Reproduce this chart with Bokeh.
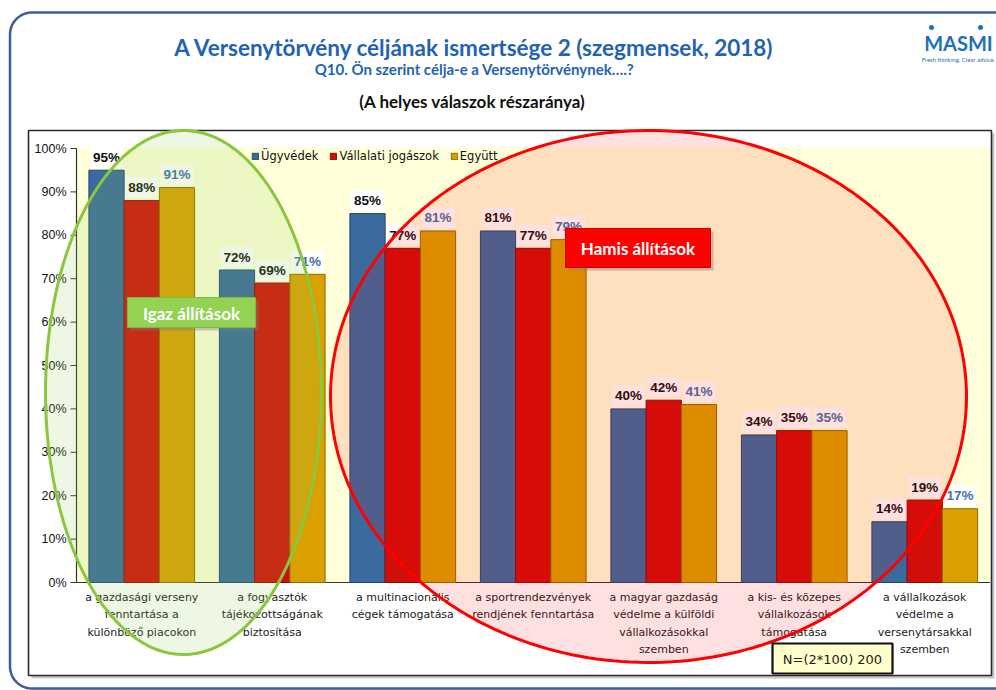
import numpy as np
from bokeh.plotting import figure
from bokeh.models import Range1d, ColumnDataSource, Legend, LegendItem
from bokeh.core.properties import value
from bokeh.embed import file_html
from bokeh.resources import INLINE

# ---------------- data ----------------
categories = [
    "a gazdasági verseny\nfenntartása a\nkülönböző piacokon",
    "a fogyasztók\ntájékozottságának\nbiztosítása",
    "a multinacionális\ncégek támogatása",
    "a sportrendezvények\nrendjének fenntartása",
    "a magyar gazdaság\nvédelme a külföldi\nvállalkozásokkal\nszemben",
    "a kis- és közepes\nvállalkozások\ntámogatása",
    "a vállalkozások\nvédelme a\nversenytársakkal\nszemben",
]
series_names = ["Ügyvédek", "Vállalati jogászok", "Együtt"]
ugyvedek = [95, 72, 85, 81, 40, 34, 14]
vallalati = [88, 69, 77, 77, 42, 35, 19]
egyutt = [91, 71, 81, 79, 41, 35, 17]
y_ticks = [0, 10, 20, 30, 40, 50, 60, 70, 80, 90, 100]
y_tick_labels = ["0%", "10%", "20%", "30%", "40%", "50%", "60%", "70%", "80%", "90%", "100%"]

title_text = "A Versenytörvény céljának ismertsége 2 (szegmensek, 2018)"
subtitle_text = "Q10. Ön szerint célja-e a Versenytörvénynek\u2026.?"
note_text = "(A helyes válaszok részaránya)"
true_label = "Igaz állítások"
false_label = "Hamis állítások"
n_text = "N=(2*100) 200"

# ---------------- layout ----------------
W, H = 996, 690
OX, OY = 0, 0                 # "px" coords equal screenshot coords
PLOT_L = 76                   # x pixel of the y axis
GROUP_W = 130.5               # pixels per category
ZERO_Y = 582                  # pixel of 0 %
PX_PER_PCT = 4.34

x_range = Range1d((OX - PLOT_L) / GROUP_W, (OX + W - PLOT_L) / GROUP_W)
y_range = Range1d((ZERO_Y - (OY + H)) / PX_PER_PCT, (ZERO_Y - OY) / PX_PER_PCT)

p = figure(width=W, height=H, x_range=x_range, y_range=y_range,
           output_backend="svg", toolbar_location=None,
           x_axis_type=None, y_axis_type=None, min_border=0)
p.extra_x_ranges = {"px": Range1d(OX, OX + W)}
p.extra_y_ranges = {"px": Range1d(OY + H, OY)}
p.outline_line_color = None
p.background_fill_color = "white"
p.border_fill_color = "white"
p.xgrid.visible = False
p.ygrid.visible = False

PX = dict(x_range_name="px", y_range_name="px")


def rounded_rect(l, t, r, b, rad, n=16):
    xs, ys = [], []
    corners = [(r - rad, t + rad, -np.pi / 2, 0), (r - rad, b - rad, 0, np.pi / 2),
               (l + rad, b - rad, np.pi / 2, np.pi), (l + rad, t + rad, np.pi, 1.5 * np.pi)]
    for cx, cy, a0, a1 in corners:
        th = np.linspace(a0, a1, n)
        xs += list(cx + rad * np.cos(th))
        ys += list(cy + rad * np.sin(th))
    xs.append(xs[0]); ys.append(ys[0])
    return xs, ys


def ellipse_pts(cx, cy, a, b, n=240):
    th = np.linspace(0, 2 * np.pi, n)
    return list(cx + a * np.cos(th)), list(cy + b * np.sin(th))


FONT = value("Liberation Sans")
CAT_FONT = value("DejaVu Sans")
TITLE_FONT = value("Lato")

# outer rounded blue frame
fx, fy = rounded_rect(9.5, 12, 1020, 688, 22)
p.line(fx, fy, line_color="#3B5E9A", line_width=2.5, **PX)

# chart box with shadow
p.quad(left=[31], right=[994], top=[133], bottom=[678], fill_color="#9A9A9A",
       fill_alpha=0.55, line_color=None, **PX)
p.quad(left=[28], right=[991], top=[130], bottom=[675], fill_color="white",
       line_color="#2A2A2A", line_width=1.6, **PX)

# plot area background
p.quad(left=[0], right=[7], bottom=[0], top=[100.3], fill_color="#FFFFD9", line_color=None)

# axes
p.segment(x0=[0], x1=[0], y0=[0], y1=[100], line_color="#333333", line_width=1.2)
p.segment(x0=[0], x1=[7], y0=[0], y1=[0], line_color="#333333", line_width=1.2)
p.segment(x0=[70] * len(y_ticks), x1=[76] * len(y_ticks), y0=y_ticks, y1=y_ticks,
          line_color="#333333", line_width=1, x_range_name="px")
p.text(x=[66] * len(y_ticks), y=y_ticks, text=y_tick_labels, x_range_name="px",
       text_align="right", text_baseline="middle", text_font=FONT,
       text_font_size="12.5px", text_color="#111111")

# bars
centers = np.arange(len(categories)) + 0.5
BW = 0.27
series = [
    (series_names[0], ugyvedek, "#3A6A9E", "#24466E", "#111111", -BW),
    (series_names[1], vallalati, "#D20E0A", "#8A0A08", "#111111", 0.0),
    (series_names[2], egyutt, "#D9A000", "#8E6A00", "#4472A8", BW),
]
bar_renderers = []
label_sources = []
for name, vals, col, lcol, tcol, off in series:
    src = ColumnDataSource(dict(x=centers + off, top=vals,
                                label=[f"{v}%" for v in vals]))
    r = p.vbar(x="x", top="top", bottom=0, width=BW, source=src,
               fill_color=col, line_color=lcol, line_width=1)
    bar_renderers.append(r)
    label_sources.append((src, tcol))

for src, tcol in label_sources:
    p.text(x="x", y="top", text="label", source=src, y_offset=-13,
           text_align="center", text_baseline="middle", text_font=FONT,
           text_font_style="bold", text_font_size="13.5px", text_color=tcol,
           background_fill_color="white", padding=3)

# category labels
p.text(x=centers, y=[0] * len(categories), text=categories, y_offset=8,
       text_align="center", text_baseline="top", text_font=CAT_FONT,
       text_font_size="11px", text_color="#1A1A1A", text_line_height=1.35)

# ellipses (translucent overlays)
gx, gy = ellipse_pts(183, 392, 138, 262)
p.patch(gx, gy, fill_color="#92D050", fill_alpha=0.16, line_color="#8CC63F",
        line_width=3, **PX)
rx, ry = ellipse_pts(648, 396, 318, 266)
p.patch(rx, ry, fill_color="#FF0000", fill_alpha=0.12, line_color="#FF0000",
        line_width=3, **PX)

# callout boxes
p.quad(left=[130], right=[258], top=[300], bottom=[330], fill_color="#808080",
       fill_alpha=0.4, line_color=None, **PX)
p.quad(left=[127], right=[255], top=[297], bottom=[327], fill_color="#94D254",
       line_color="#7DB845", line_width=1, **PX)
p.text(x=[191], y=[312.5], text=[true_label], text_align="center", text_baseline="middle",
       text_font=TITLE_FONT, text_font_style="bold", text_font_size="17px",
       text_color="white", **PX)

p.quad(left=[568], right=[713], top=[231], bottom=[270], fill_color="#808080",
       fill_alpha=0.45, line_color=None, **PX)
p.quad(left=[565], right=[710], top=[228], bottom=[267], fill_color="#FF0000",
       line_color="#D00000", line_width=1, **PX)
p.text(x=[637.5], y=[247.5], text=[false_label], text_align="center", text_baseline="middle",
       text_font=TITLE_FONT, text_font_style="bold", text_font_size="17px",
       text_color="white", **PX)

# N box
p.quad(left=[772], right=[892], top=[643], bottom=[673], fill_color="#FFFFCC",
       line_color="#111111", line_width=2.2, **PX)
p.text(x=[832], y=[658.5], text=[n_text], text_align="center", text_baseline="middle",
       text_font=CAT_FONT, text_font_size="13px", text_color="#222222", **PX)

# titles
p.text(x=[474], y=[47], text=[title_text], text_align="center", text_baseline="middle",
       text_font=TITLE_FONT, text_font_style="bold", text_font_size="22.5px",
       text_color="#1F63B4", **PX)
p.text(x=[474], y=[68], text=[subtitle_text], text_align="center", text_baseline="middle",
       text_font=TITLE_FONT, text_font_style="bold", text_font_size="15px",
       text_color="#1F63B4", **PX)
p.text(x=[472], y=[101], text=[note_text], text_align="center", text_baseline="middle",
       text_font=TITLE_FONT, text_font_style="bold", text_font_size="17px",
       text_color="#111111", **PX)

# logo
p.text(x=[958], y=[42], text=["MASMI"], text_align="center", text_baseline="middle",
       text_font=TITLE_FONT, text_font_style="bold", text_font_size="20px",
       text_color="#1B72B8", **PX)
p.scatter(x=[931, 980], y=[27, 27], size=5, marker="circle", fill_color="#1B72B8",
          line_color=None, **PX)
p.text(x=[958], y=[59], text=["Fresh thinking. Clear advice."], text_align="center",
       text_baseline="middle", text_font=TITLE_FONT, text_font_size="6px",
       text_color="#1B72B8", **PX)

# legend
legend = Legend(items=[LegendItem(label=n, renderers=[r])
                       for n, r in zip(series_names, bar_renderers)],
                orientation="horizontal", location=(251, 527),
                glyph_width=8, glyph_height=8, label_standoff=2, spacing=11,
                padding=0, margin=0, label_height=12,
                background_fill_alpha=0, border_line_alpha=0,
                label_text_font="DejaVu Sans", label_text_font_size="11.5px",
                label_text_color="#111111")
p.add_layout(legend)

open("out.html", "w").write(file_html(p, INLINE))
